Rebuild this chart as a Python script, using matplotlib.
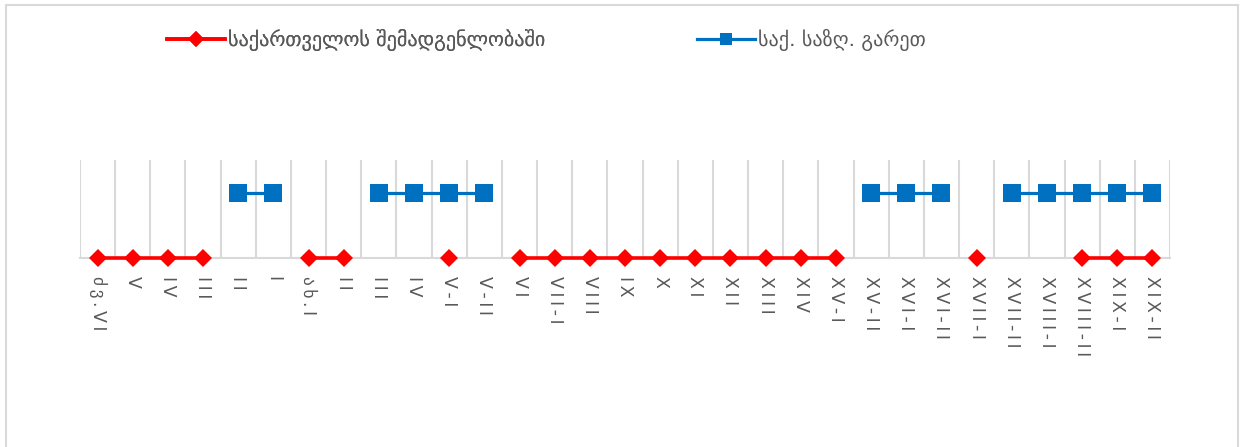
import numpy as np
import matplotlib.pyplot as plt
from matplotlib.lines import Line2D
from matplotlib.patches import Rectangle

plt.rcParams['font.family'] = ['DejaVu Sans']

# ეპოქები / საუკუნეები
periods = ["ძვ. VI", "V", "IV", "III", "II", "I", "ახ. I", "II", "III", "IV",
           "V-I", "V-II", "VI", "VII-I", "VIII", "IX", "X", "XI", "XII", "XIII",
           "XIV", "XV-I", "XV-II", "XVI-I", "XVI-II", "XVII-I", "XVII-II",
           "XVIII-I", "XVIII-II", "XIX-I", "XIX-II"]

n = np.nan
# საქართველოს შემადგენლობაში (0 = დონე), nan = არ არის
in_georgia = [0, 0, 0, 0, n, n, 0, 0, n, n,
              0, n, 0, 0, 0, 0, 0, 0, 0, 0,
              0, 0, n, n, n, 0, n, n, 0, 0, 0]
# საქ. საზღ. გარეთ
outside = [n, n, n, n, 1, 1, n, n, 1, 1,
           1, 1, n, n, n, n, n, n, n, n,
           n, n, 1, 1, 1, n, 1, 1, 1, 1, 1]

label1 = "საქართველოს შემადგენლობაში"
label2 = "საქ. საზღ. გარეთ"

red = "#FF0000"
blue = "#0070C0"
grey = "#595959"
gridc = "#D9D9D9"

W, H = 1249, 447
fig = plt.figure(figsize=(W / 100, H / 100), dpi=100)
ax = fig.add_axes([80 / W, 1 - 258 / H, (1170 - 80) / W, (258 - 160) / H])

x = np.arange(len(periods))
ax.plot(x, outside, color=blue, lw=2.3, marker='s', markersize=13,
        markeredgewidth=0, clip_on=False, zorder=3)
ax.plot(x, in_georgia, color=red, lw=2.6, marker='D', markersize=8.8,
        markeredgewidth=0, clip_on=False, zorder=4)

ax.set_xlim(-0.5, len(periods) - 0.5)
ax.set_ylim(0, 1.5)
for b in np.arange(-0.5, len(periods), 1.0):
    ax.axvline(b, color=gridc, lw=1.5, zorder=1)

for s in ['top', 'left', 'right']:
    ax.spines[s].set_visible(False)
ax.spines['bottom'].set_color(gridc)
ax.spines['bottom'].set_linewidth(1.5)
ax.set_yticks([])

# ასოებს შორის მცირე დაშორება
spaced = ["\u2009".join(p.replace(" ", "")) for p in periods]
ax.set_xticks(x)
ax.set_xticklabels(spaced, rotation=-90, ha='center', va='top',
                   fontsize=12.5, color=grey)
ax.tick_params(axis='x', length=0, pad=13)

h1 = Line2D([], [], color=red, lw=2.6, marker='D', markersize=8, markeredgewidth=0)
h2 = Line2D([], [], color=blue, lw=2.3, marker='s', markersize=9, markeredgewidth=0)
leg1 = fig.legend([h1], [label1], loc='center left', bbox_to_anchor=(167 / W, 1 - 40 / H),
                  frameon=False, borderpad=0, borderaxespad=0, handlelength=2.9,
                  handletextpad=0.15, fontsize=14.5, labelcolor=grey)
fig.add_artist(leg1)
fig.legend([h2], [label2], loc='center left', bbox_to_anchor=(697 / W, 1 - 40 / H),
           frameon=False, borderpad=0, borderaxespad=0, handlelength=2.9,
           handletextpad=0.15, fontsize=14.5, labelcolor=grey)

fig.add_artist(Rectangle((6 / W, -0.01), (1238 - 6) / W, 1 - 5 / H + 0.01,
                         transform=fig.transFigure, fill=False,
                         edgecolor=gridc, lw=1.5))

fig.savefig("out.png", dpi=100)
